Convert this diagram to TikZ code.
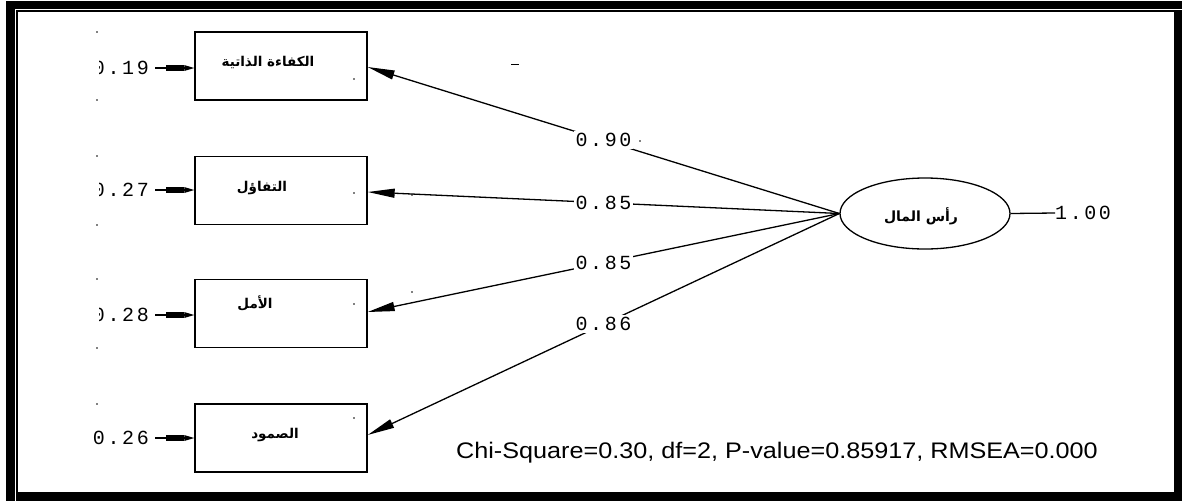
\documentclass[tikz,border=0pt]{standalone}
\usepackage{fontspec}
\usetikzlibrary{arrows.meta,shapes.geometric}
\TeXXeTstate=1
\setmainfont{Liberation Sans}
\newfontfamily\fitfont[FakeStretch=1.12]{Liberation Sans}
\newfontfamily\arabicfont[Script=Arabic]{DejaVu Sans}
\newfontfamily\numfont[LetterSpace=13]{Liberation Mono}
\begin{document}
\begin{tikzpicture}[x=1pt,y=-1pt,
  obs/.style={draw, line width=1.3pt, minimum width=172pt, minimum height=68pt, inner sep=0pt},
  lat/.style={draw, ellipse, line width=1.3pt, minimum width=170pt, minimum height=71pt, inner sep=0pt},
  artxt/.style={font=\arabicfont\bfseries\fontsize{13.5}{15}\selectfont, inner sep=0pt},
  num/.style={font=\numfont\fontsize{20}{22}\selectfont, inner sep=0pt},
  load/.style={num, fill=white, inner sep=2pt},
  path/.style={line width=1.3pt, -{Triangle[length=27pt,width=9pt]}},
  err/.style={line width=1.3pt, -{Rectangle[length=18pt,width=5.5pt,sep=0pt]Triangle[length=10pt,width=5.5pt]}},
  speck/.style={fill=black, inner sep=0pt, minimum size=1.6pt, circle}
]
\useasboundingbox (0,0) rectangle (1182,501);

% outer frame
\fill[black] (6,1) rectangle (1182,9);
\fill[black] (6,1) rectangle (15,501);
\fill[black] (1174,12) rectangle (1182,501);
\fill[black] (16,492) rectangle (1182,501);
\draw[line width=1.6pt] (16.8,492) -- (16.8,11) -- (1182,11);

% observed indicators
\node[obs] (b1) at (281,66) {};
\node[obs] (b2) at (281,190.5) {};
\node[obs] (b3) at (281,313.5) {};
\node[obs] (b4) at (281,438) {};
\node[artxt] (t1) at (268,62) {\beginR الكفاءة الذاتية\endR};
\node[artxt] (t2) at (262,188) {\beginR التفاؤل\endR};
\node[artxt] (t3) at (255,303) {\beginR الأمل\endR};
\node[artxt] (t4) at (275,435) {\beginR الصمود\endR};

% latent factor
\node[lat] (lv) at (925,213.5) {};
\node[artxt, font=\arabicfont\bfseries\fontsize{14}{16}\selectfont] (lt) at (921,216) {\beginR رأس المال\endR};
\node[num, anchor=west] (one) at (1055,213) {1.00};
\draw[line width=1.3pt] (lv.east) -- (one.west);

% error variances
\begin{scope}
  \clip (99,20) rectangle (190,360);
  \node[num, anchor=east] (e1) at (149,68) {0.19};
  \node[num, anchor=east] (e2) at (149,190) {0.27};
  \node[num, anchor=east] (e3) at (149,315) {0.28};
\end{scope}
\node[num, anchor=east] (e4) at (149,438) {0.26};
\draw[err] (e1.east |- 0,68) ++(6,0) -- (b1.west |- 0,68);
\draw[err] (e2.east |- 0,190) ++(6,0) -- (b2.west |- 0,190);
\draw[err] (e3.east |- 0,315) ++(6,0) -- (b3.west |- 0,315);
\draw[err] (e4.east |- 0,438) ++(6,0) -- (b4.west |- 0,438);

% factor loadings
\draw[path] (lv.west) -- node[load, pos=0.5] {0.90} (b1.east |- 0,67);
\draw[path] (lv.west) -- node[load, pos=0.5] {0.85} (b2.east |- 0,192);
\draw[path] (lv.west) -- node[load, pos=0.5] {0.85} (b3.east |- 0,312);
\draw[path] (lv.west) -- node[load, pos=0.5] {0.86} (b4.east |- 0,435);

% fit statistics
\node[font=\fitfont\fontsize{22.5}{24}\selectfont, inner sep=0pt] (fit) at (777,453)
  {Chi-Square=0.30, df=2, P-value=0.85917, RMSEA=0.000};

% stray specks
\foreach \p [count=\i] in {(97,32),(97,100),(97,156),(97,225),(97,279),(97,348),(97,404),
  (354,79),(354,193),(354,304),(354,418),(412,195),(412,292),(640,141)}
  \node[speck] (s\i) at \p {};
\draw[line width=0.8pt] (511,64) -- (519,64);
\end{tikzpicture}
\end{document}
